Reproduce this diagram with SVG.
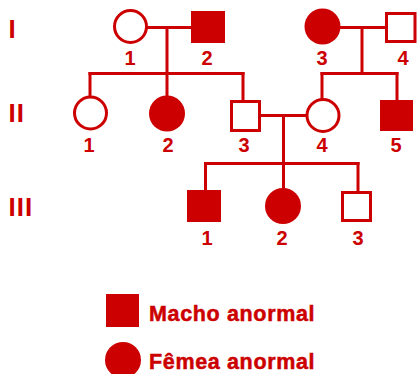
<svg xmlns="http://www.w3.org/2000/svg" width="417" height="374" viewBox="0 0 417 374">
  <style>
    .line { stroke: #cc0000; stroke-width: 3; fill: none; }
    .open { fill: #ffffff; stroke: #cc0000; stroke-width: 3; }
    .fill { fill: #cc0000; stroke: none; }
    .num { font-family: "Liberation Sans", Arial, sans-serif; font-weight: bold; font-size: 20px; fill: #cc0000; text-anchor: middle; }
    .gen { font-family: "Liberation Sans", Arial, sans-serif; font-weight: bold; font-size: 26px; fill: #cc0000; letter-spacing: 1px; }
    .legend { font-family: "Liberation Sans", Arial, sans-serif; font-weight: bold; font-size: 21.5px; fill: #cc0000; stroke: #cc0000; stroke-width: 0.5; letter-spacing: 0.65px; }
  </style>
  <rect width="417" height="374" fill="#ffffff"/>

  <!-- generation labels -->
  <g id="generations">
    <text class="gen" x="8.5" y="38">I</text>
    <text class="gen" x="8.5" y="122">II</text>
    <text class="gen" x="8.5" y="216">III</text>
  </g>

  <!-- connectors -->
  <g id="connectors">
    <!-- couple I-1 x I-2 -->
    <line class="line" x1="146" y1="27.5" x2="192" y2="27.5"/>
    <line class="line" x1="167" y1="27.5" x2="167" y2="96"/>
    <line class="line" x1="88.5" y1="73.5" x2="244.5" y2="73.5"/>
    <line class="line" x1="90" y1="72" x2="90" y2="97"/>
    <line class="line" x1="243" y1="72" x2="243" y2="101"/>
    <!-- couple I-3 x I-4 -->
    <line class="line" x1="340" y1="27.5" x2="386" y2="27.5"/>
    <line class="line" x1="362" y1="27.5" x2="362" y2="73.5"/>
    <line class="line" x1="320.5" y1="73.5" x2="398.5" y2="73.5"/>
    <line class="line" x1="322" y1="72" x2="322" y2="100"/>
    <line class="line" x1="397" y1="72" x2="397" y2="101"/>
    <!-- couple II-3 x II-4 -->
    <line class="line" x1="260" y1="115.5" x2="308" y2="115.5"/>
    <line class="line" x1="283.5" y1="115.5" x2="283.5" y2="190"/>
    <line class="line" x1="204" y1="163.5" x2="359.5" y2="163.5"/>
    <line class="line" x1="205.5" y1="162" x2="205.5" y2="191"/>
    <line class="line" x1="358" y1="162" x2="358" y2="192"/>
  </g>

  <!-- generation I -->
  <g id="I-1">
    <circle class="open" cx="130.5" cy="26.5" r="16"/>
    <text class="num" x="130" y="65">1</text>
  </g>
  <g id="I-2">
    <rect class="fill" x="191" y="11" width="34" height="32"/>
    <text class="num" x="207" y="65">2</text>
  </g>
  <g id="I-3">
    <circle class="fill" cx="322.5" cy="26.5" r="18"/>
    <text class="num" x="322" y="65">3</text>
  </g>
  <g id="I-4">
    <rect class="open" x="386.5" y="13.5" width="28.5" height="28"/>
    <text class="num" x="403" y="65">4</text>
  </g>

  <!-- generation II -->
  <g id="II-1">
    <circle class="open" cx="90.5" cy="113" r="16"/>
    <text class="num" x="89" y="152">1</text>
  </g>
  <g id="II-2">
    <circle class="fill" cx="167" cy="113.5" r="18"/>
    <text class="num" x="168" y="152">2</text>
  </g>
  <g id="II-3">
    <rect class="open" x="231.5" y="101.5" width="28" height="29"/>
    <text class="num" x="244" y="152">3</text>
  </g>
  <g id="II-4">
    <circle class="open" cx="323" cy="115.5" r="16"/>
    <text class="num" x="322" y="152">4</text>
  </g>
  <g id="II-5">
    <rect class="fill" x="380" y="100" width="33" height="31"/>
    <text class="num" x="396" y="152">5</text>
  </g>

  <!-- generation III -->
  <g id="III-1">
    <rect class="fill" x="187" y="190" width="34" height="32"/>
    <text class="num" x="207" y="245">1</text>
  </g>
  <g id="III-2">
    <circle class="fill" cx="283" cy="206" r="18"/>
    <text class="num" x="282" y="245">2</text>
  </g>
  <g id="III-3">
    <rect class="open" x="342.5" y="192.5" width="28" height="28"/>
    <text class="num" x="358" y="245">3</text>
  </g>

  <!-- legend -->
  <g id="legend-male">
    <rect class="fill" x="106" y="294" width="33" height="33"/>
    <text class="legend" x="149" y="321">Macho anormal</text>
  </g>
  <g id="legend-female">
    <circle class="fill" cx="123" cy="360" r="18"/>
    <text class="legend" x="149" y="369">Fêmea anormal</text>
  </g>
</svg>
